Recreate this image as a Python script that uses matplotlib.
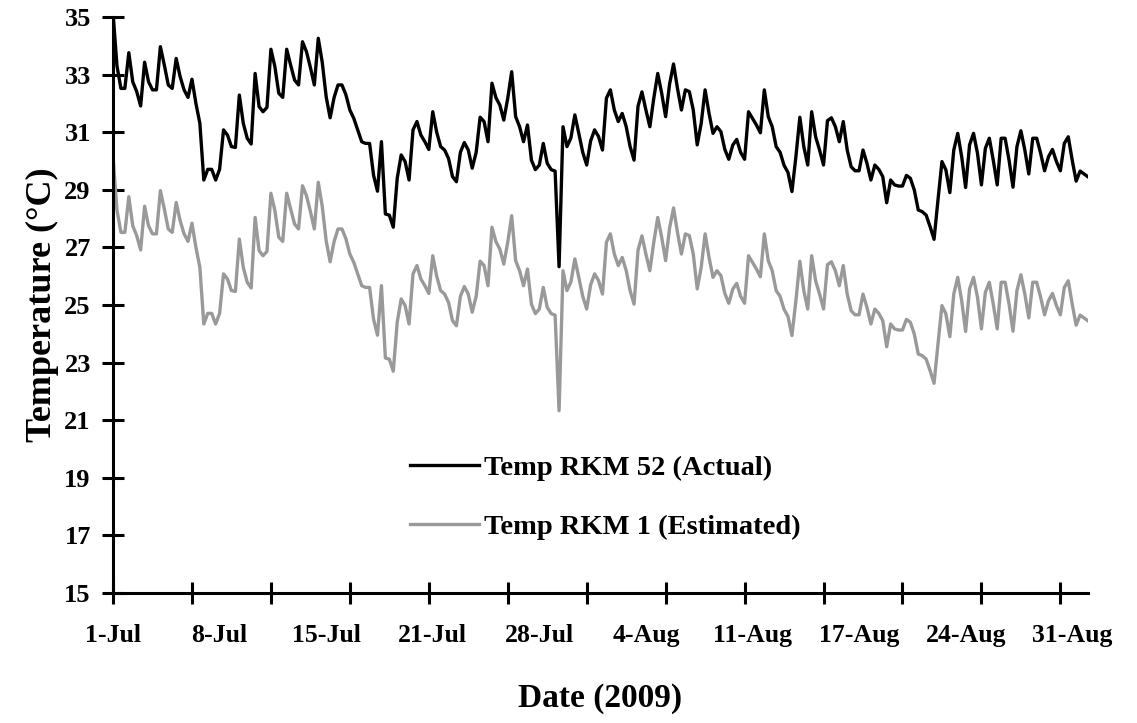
import numpy as np
import matplotlib.pyplot as plt

# Water temperature, 6-hourly readings, 1 Jul - 1 Sep 2009
temp_rkm52 = [
    35.15, 33.3, 32.52, 32.52, 33.76, 32.75, 32.41, 31.91, 33.43, 32.75,
    32.47, 32.47, 33.97, 33.33, 32.64, 32.52, 33.56, 32.93, 32.47, 32.21,
    32.84, 32.0, 31.31, 29.34, 29.71, 29.71, 29.34, 29.71, 31.08, 30.9,
    30.5, 30.47, 32.29, 31.31, 30.79, 30.59, 33.04, 31.89, 31.71, 31.86,
    33.88, 33.28, 32.35, 32.21, 33.88, 33.33, 32.81, 32.64, 34.14, 33.8,
    33.25, 32.64, 34.26, 33.43, 32.23, 31.5, 32.2, 32.64, 32.64, 32.3,
    31.77, 31.48, 31.08, 30.67, 30.61, 30.61, 29.51, 28.95, 30.67, 28.16,
    28.12, 27.7, 29.4, 30.21, 29.98, 29.34, 31.08, 31.37, 30.9, 30.67,
    30.4, 31.71, 31.0, 30.5, 30.38, 30.09, 29.46, 29.28, 30.3, 30.64,
    30.38, 29.75, 30.3, 31.52, 31.37, 30.67, 32.7, 32.2, 31.94, 31.42,
    32.18, 33.1, 31.54, 31.19, 30.67, 31.25, 30.03, 29.7, 29.86, 30.61,
    29.92, 29.7, 29.65, 26.33, 31.19, 30.5, 30.8, 31.6, 30.96, 30.3,
    29.86, 30.7, 31.08, 30.85, 30.38, 32.18, 32.47, 31.77, 31.37, 31.65,
    31.2, 30.5, 30.03, 31.9, 32.4, 31.77, 31.19, 32.18, 33.04, 32.35,
    31.54, 32.67, 33.37, 32.52, 31.77, 32.47, 32.41, 31.77, 30.56, 31.3,
    32.47, 31.65, 30.96, 31.19, 31.02, 30.4, 30.06, 30.55, 30.75, 30.3,
    30.06, 31.71, 31.48, 31.25, 30.98, 32.47, 31.54, 31.19, 30.5, 30.3,
    29.85, 29.6, 28.94, 30.15, 31.52, 30.5, 29.86, 31.71, 30.84, 30.38,
    29.86, 31.4, 31.5, 31.19, 30.67, 31.37, 30.38, 29.8, 29.66, 29.66,
    30.38, 29.92, 29.34, 29.86, 29.71, 29.46, 28.55, 29.34, 29.17, 29.13,
    29.13, 29.5, 29.4, 28.99, 28.3, 28.24, 28.12, 27.72, 27.28, 28.65,
    29.98, 29.69, 28.9, 30.38, 30.96, 30.15, 29.08, 30.56, 30.96, 30.27,
    29.17, 30.44, 30.79, 30.03, 29.17, 30.79, 30.79, 30.03, 29.09, 30.5,
    31.05, 30.38, 29.55, 30.79, 30.79, 30.27, 29.66, 30.15, 30.4, 29.98,
    29.66, 30.61, 30.84, 30.03, 29.3, 29.65, 29.55, 29.45]

temp_rkm1 = [
    30.15, 28.3, 27.52, 27.52, 28.76, 27.75, 27.41, 26.91, 28.43, 27.75,
    27.47, 27.47, 28.97, 28.33, 27.64, 27.52, 28.56, 27.93, 27.47, 27.21,
    27.84, 27.0, 26.31, 24.34, 24.71, 24.71, 24.34, 24.71, 26.08, 25.9,
    25.5, 25.47, 27.29, 26.31, 25.79, 25.59, 28.04, 26.89, 26.71, 26.86,
    28.88, 28.28, 27.35, 27.21, 28.88, 28.33, 27.81, 27.64, 29.14, 28.8,
    28.25, 27.64, 29.26, 28.43, 27.23, 26.5, 27.2, 27.64, 27.64, 27.3,
    26.77, 26.48, 26.08, 25.67, 25.61, 25.61, 24.51, 23.95, 25.67, 23.16,
    23.12, 22.7, 24.4, 25.21, 24.98, 24.34, 26.08, 26.37, 25.9, 25.67,
    25.4, 26.71, 26.0, 25.5, 25.38, 25.09, 24.46, 24.28, 25.3, 25.64,
    25.38, 24.75, 25.3, 26.52, 26.37, 25.67, 27.7, 27.2, 26.94, 26.42,
    27.18, 28.1, 26.54, 26.19, 25.67, 26.25, 25.03, 24.7, 24.86, 25.61,
    24.92, 24.7, 24.65, 21.33, 26.19, 25.5, 25.8, 26.6, 25.96, 25.3,
    24.86, 25.7, 26.08, 25.85, 25.38, 27.18, 27.47, 26.77, 26.37, 26.65,
    26.2, 25.5, 25.03, 26.9, 27.4, 26.77, 26.19, 27.18, 28.04, 27.35,
    26.54, 27.67, 28.37, 27.52, 26.77, 27.47, 27.41, 26.77, 25.56, 26.3,
    27.47, 26.65, 25.96, 26.19, 26.02, 25.4, 25.06, 25.55, 25.75, 25.3,
    25.06, 26.71, 26.48, 26.25, 25.98, 27.47, 26.54, 26.19, 25.5, 25.3,
    24.85, 24.6, 23.94, 25.15, 26.52, 25.5, 24.86, 26.71, 25.84, 25.38,
    24.86, 26.4, 26.5, 26.19, 25.67, 26.37, 25.38, 24.8, 24.66, 24.66,
    25.38, 24.92, 24.34, 24.86, 24.71, 24.46, 23.55, 24.34, 24.17, 24.13,
    24.13, 24.5, 24.4, 23.99, 23.3, 23.24, 23.12, 22.72, 22.28, 23.65,
    24.98, 24.69, 23.9, 25.38, 25.96, 25.15, 24.08, 25.56, 25.96, 25.27,
    24.17, 25.44, 25.79, 25.03, 24.17, 25.79, 25.79, 25.03, 24.09, 25.5,
    26.05, 25.38, 24.55, 25.79, 25.79, 25.27, 24.66, 25.15, 25.4, 24.98,
    24.66, 25.61, 25.84, 25.03, 24.3, 24.65, 24.55, 24.45]

date_labels = ['1-Jul', '8-Jul', '15-Jul', '21-Jul', '28-Jul',
               '4-Aug', '11-Aug', '17-Aug', '24-Aug', '31-Aug']
label_every = 27   # readings between date labels
tick_every = 20    # readings between tick marks

plt.rcParams['font.family'] = 'Liberation Serif'
plt.rcParams['font.weight'] = 'bold'

x = np.arange(len(temp_rkm52))

fig = plt.figure(figsize=(11.37, 7.23), dpi=100)
ax = fig.add_axes([0.0994, 0.1798, 0.8575, 0.7967])

ax.plot(x, temp_rkm52, color='black', lw=2.4, label='Temp RKM 52 (Actual)')
ax.plot(x, temp_rkm1, color='#999999', lw=2.4, label='Temp RKM 1 (Estimated)')

ax.set_xlim(0, len(x) - 1)
ax.set_ylim(15, 35)

for side in ['top', 'right']:
    ax.spines[side].set_visible(False)
for side in ['left', 'bottom']:
    ax.spines[side].set_linewidth(2.2)

# tick marks and date labels sit on different intervals
ax.xaxis.remove_overlapping_locs = False
ax.set_xticks(np.arange(0, len(x), tick_every))
ax.set_xticks(np.arange(0, len(x), label_every)[:len(date_labels)], minor=True)
ax.set_xticklabels([])
ax.set_xticklabels(date_labels, minor=True)
ax.tick_params(axis='x', which='major', direction='inout', length=16, width=2.2)
ax.tick_params(axis='x', which='minor', length=0, pad=22, labelsize=18.5)

ax.set_yticks(np.arange(15, 36, 2))
ax.tick_params(axis='y', direction='inout', length=16, width=2.2, pad=8, labelsize=19)

ax.set_xlabel('Date (2009)', fontsize=24, fontweight='bold', labelpad=26)
ax.set_ylabel('Temperature (\u00b0C)', fontsize=26, fontweight='bold', labelpad=4)

ax.legend(loc='center left', bbox_to_anchor=(0.305, 0.166), frameon=False,
          fontsize=20.5, handlelength=2.4, handletextpad=0.2, labelspacing=1.15,
          borderpad=0, borderaxespad=0)

plt.savefig('out.png', dpi=100)
